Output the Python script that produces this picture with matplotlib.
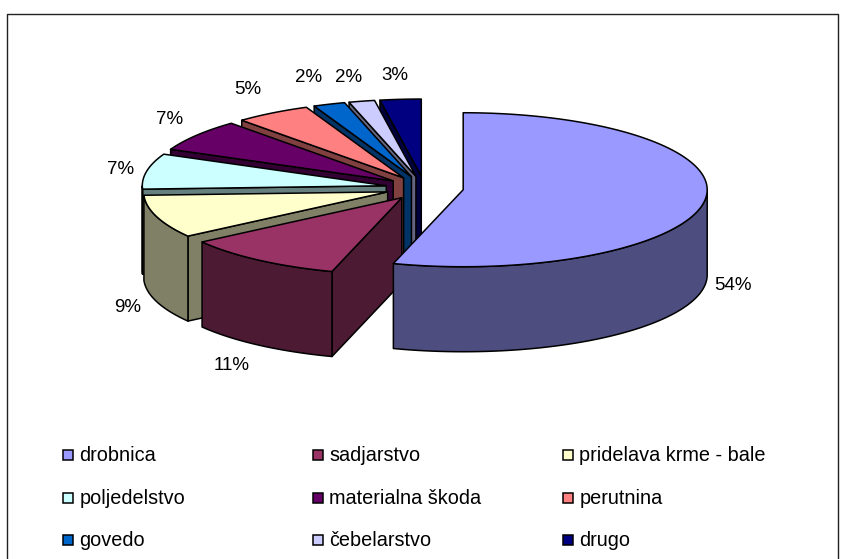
import numpy as np
import matplotlib
matplotlib.use("Agg")
import matplotlib.pyplot as plt
from matplotlib.patches import Polygon, Rectangle

categories = ["drobnica", "sadjarstvo", "pridelava krme - bale", "poljedelstvo",
              "materialna škoda", "perutnina", "govedo", "čebelarstvo", "drugo"]
values = [54.4, 10.6, 9.0, 7.4, 6.7, 5.0, 2.1, 1.7, 2.7]
top_colors = ["#9999FF", "#993366", "#FFFFCC", "#CCFFFF", "#660066",
              "#FF8080", "#0066CC", "#CCCCFF", "#000080"]
side_colors = ["#4D4D80", "#4D1A33", "#808066", "#668080", "#330033",
               "#804040", "#003366", "#666680", "#000040"]

W, H = 845, 559
CX, CY, RX, RY, DEPTH = 424.6, 188.0, 244, 77, 85
EX, EY = 39, 12
label_xy = [(733, 285), (232, 366), (128, 308), (121, 169), (170, 120),
            (248, 90), (309, 78), (349, 77), (395, 75)]
legend_cols = [63, 313, 563]
legend_rows = [455, 498, 540]
FONT = "Liberation Sans"
FS_LEGEND = 14.3
FS_LABEL = 13.5

fig = plt.figure(figsize=(W / 100, H / 100), dpi=100)
ax = fig.add_axes([0, 0, 1, 1])
ax.set_xlim(0, W)
ax.set_ylim(H, 0)
ax.axis("off")

ax.plot([7.5, 7.5, 838.5, 838.5], [559, 13.5, 13.5, 559], color="#222222", lw=1.0)

vals = np.array(values, dtype=float)
cum = np.concatenate([[0], np.cumsum(vals)]) / vals.sum() * 2 * np.pi
LW = 1.1


def rim(a, ox, oy):
    return np.column_stack([ox + RX * np.sin(a), oy - RY * np.cos(a)])


def poly(pts, fc):
    ax.add_patch(Polygon(pts, closed=True, fc=fc, ec="black", lw=LW, joinstyle="round"))


def draw_slice(i):
    a0, a1 = cum[i], cum[i + 1]
    mid = (a0 + a1) / 2
    ox = CX + EX * np.sin(mid)
    oy = CY - EY * np.cos(mid)
    apex = np.array([ox, oy])
    down = np.array([0, DEPTH])
    for a, sign in ((a0, 1), (a1, -1)):
        p = rim(np.array([a]), ox, oy)[0]
        facing = (sign == 1 and np.sin(a) < 0) or (sign == -1 and np.sin(a) > 0)
        if facing:
            poly([apex, p, p + down, apex + down], side_colors[i])
    lo, hi = max(a0, np.pi / 2), min(a1, 3 * np.pi / 2)
    if hi > lo:
        arc = np.linspace(lo, hi, 120)
        tp = rim(arc, ox, oy)
        poly(np.vstack([tp, (tp + down)[::-1]]), side_colors[i])
    arc = np.linspace(a0, a1, 160)
    poly(np.vstack([apex, rim(arc, ox, oy)]), top_colors[i])


for i in list(range(len(vals) - 1, 0, -1)) + [0]:
    draw_slice(i)

for v, (x, y) in zip(values, label_xy):
    ax.text(x, y, f"{v:.0f}%", ha="center", va="center", family=FONT, fontsize=FS_LABEL, color="black")

for i, (name, color) in enumerate(zip(categories, top_colors)):
    r, c = divmod(i, 3)
    x, y = legend_cols[c], legend_rows[r]
    ax.add_patch(Rectangle((x, y - 5), 10, 10, fc=color, ec="black", lw=1.1))
    ax.text(x + 16.5, y + 6, name, ha="left", va="baseline", family=FONT, fontsize=FS_LEGEND, color="black")

fig.savefig("out.png", dpi=100, facecolor="white")
